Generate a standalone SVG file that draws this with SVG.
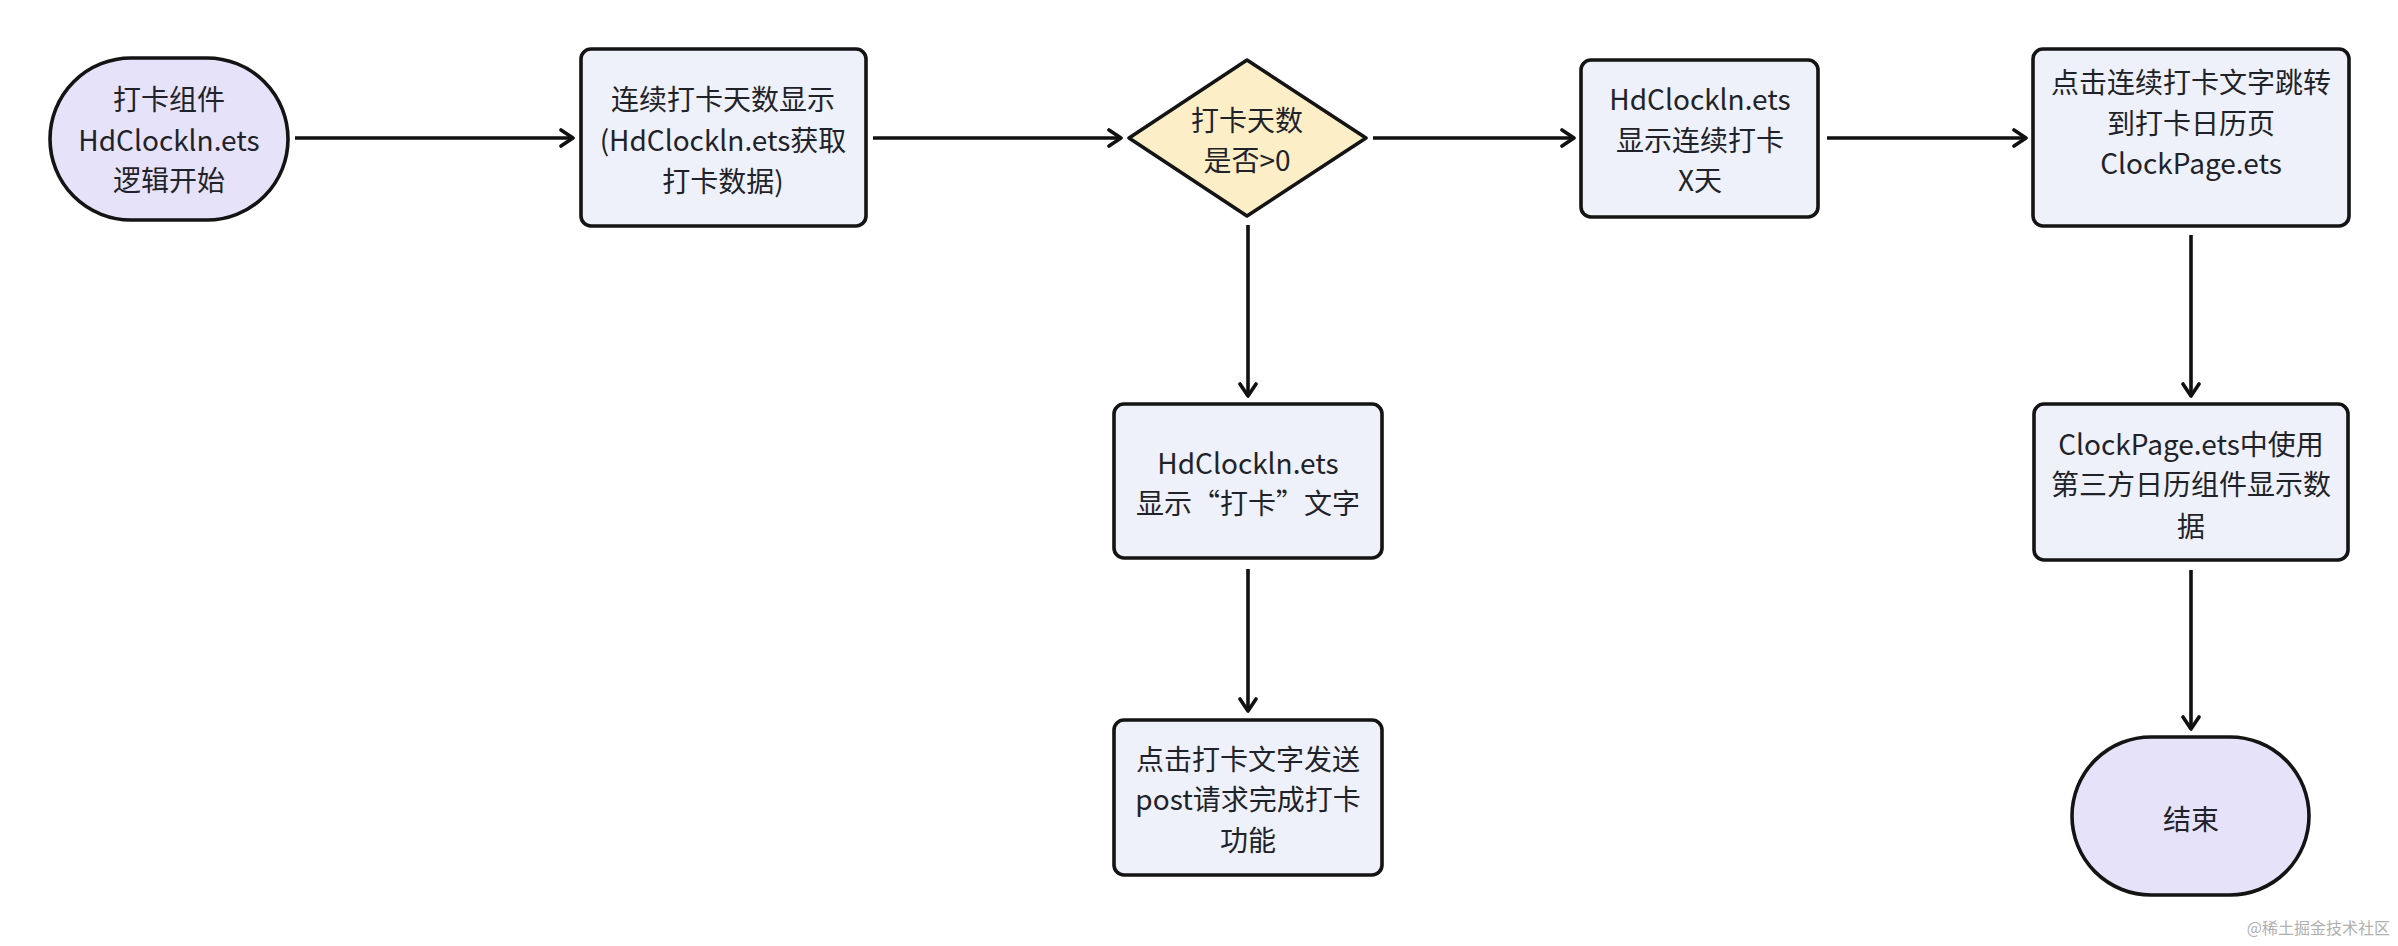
<svg xmlns="http://www.w3.org/2000/svg" width="2398" height="946" viewBox="0 0 2398 946">
<defs>
<marker id="arr" viewBox="0 0 20 20" refX="17" refY="10" markerWidth="20" markerHeight="20" markerUnits="userSpaceOnUse" orient="auto">
<path d="M5,2 L17,10 L5,18" fill="none" stroke="#111" stroke-width="3.6" stroke-linecap="round" stroke-linejoin="round"/>
</marker>
<style>
.shape{stroke:#141414;stroke-width:3.6;stroke-linejoin:round}
.term{fill:#E6E2FA}
.proc{fill:#EEF1FA}
.dec{fill:#FCEFC8}
.t{font-family:"Noto Sans CJK SC","Noto Sans",sans-serif;font-size:28px;fill:#1f2329;text-anchor:middle;dominant-baseline:central}
.edge{fill:none;stroke:#111;stroke-width:3.6;marker-end:url(#arr)}
.wm{font-family:"Noto Sans CJK SC",sans-serif;font-size:16px;fill:#b0b0b0;text-anchor:end}
</style>
</defs>
<rect width="2398" height="946" fill="#ffffff"/>
<g id="connectors">
<line class="edge" x1="295" y1="138" x2="573" y2="138"/>
<line class="edge" x1="873" y1="138" x2="1121" y2="138"/>
<line class="edge" x1="1373" y1="138" x2="1574" y2="138"/>
<line class="edge" x1="1827" y1="138" x2="2026" y2="138"/>
<line class="edge" x1="1248" y1="225" x2="1248" y2="396"/>
<line class="edge" x1="1248" y1="569" x2="1248" y2="711"/>
<line class="edge" x1="2191" y1="235" x2="2191" y2="396"/>
<line class="edge" x1="2191" y1="570" x2="2191" y2="729"/>
</g>
<g id="start">
<rect class="shape term" x="50" y="58" width="238" height="162" rx="81" ry="81"/>
<text class="t" x="169" y="98">打卡组件</text>
<text class="t" x="169" y="139">HdClockln.ets</text>
<text class="t" x="169" y="179">逻辑开始</text>
</g>
<g id="fetch">
<rect class="shape proc" x="581" y="49" width="285" height="177" rx="10"/>
<text class="t" x="723" y="98">连续打卡天数显示</text>
<text class="t" x="723" y="139">(HdClockln.ets获取</text>
<text class="t" x="723" y="180">打卡数据)</text>
</g>
<g id="decision">
<polygon class="shape dec" points="1129,138 1247,60 1366,138 1247,216"/>
<text class="t" x="1247" y="119">打卡天数</text>
<text class="t" x="1247" y="159">是否&gt;0</text>
</g>
<g id="showDays">
<rect class="shape proc" x="1581" y="60" width="237" height="157" rx="10"/>
<text class="t" x="1700" y="98">HdClockln.ets</text>
<text class="t" x="1700" y="139">显示连续打卡</text>
<text class="t" x="1700" y="179">X天</text>
</g>
<g id="jump">
<rect class="shape proc" x="2033" y="49" width="316" height="177" rx="10"/>
<text class="t" x="2191" y="81">点击连续打卡文字跳转</text>
<text class="t" x="2191" y="122">到打卡日历页</text>
<text class="t" x="2191" y="162">ClockPage.ets</text>
</g>
<g id="showClock">
<rect class="shape proc" x="1114" y="404" width="268" height="154" rx="10"/>
<text class="t" x="1248" y="462">HdClockln.ets</text>
<text class="t" x="1248" y="502">显示“打卡”文字</text>
</g>
<g id="post">
<rect class="shape proc" x="1114" y="720" width="268" height="155" rx="10"/>
<text class="t" x="1248" y="758">点击打卡文字发送</text>
<text class="t" x="1248" y="798">post请求完成打卡</text>
<text class="t" x="1248" y="839">功能</text>
</g>
<g id="calendar">
<rect class="shape proc" x="2034" y="404" width="314" height="156" rx="10"/>
<text class="t" x="2191" y="443">ClockPage.ets中使用</text>
<text class="t" x="2191" y="483">第三方日历组件显示数</text>
<text class="t" x="2191" y="525">据</text>
</g>
<g id="end">
<rect class="shape term" x="2072" y="737" width="237" height="158" rx="79" ry="79"/>
<text class="t" x="2191" y="818">结束</text>
</g>
<text class="wm" x="2390" y="934">@稀土掘金技术社区</text>
</svg>
